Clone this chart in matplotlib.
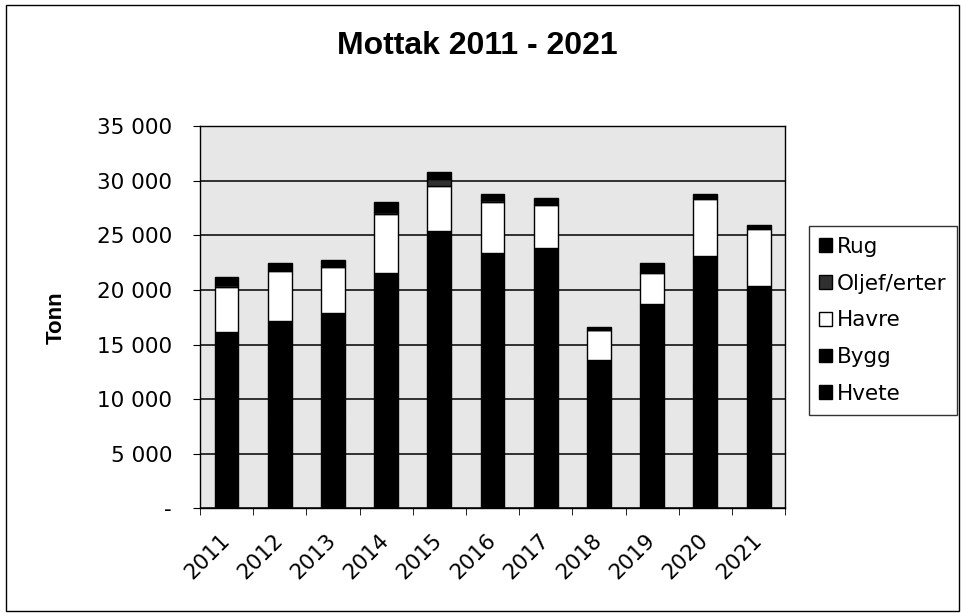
import matplotlib
matplotlib.use('Agg')
from matplotlib import pyplot as plt
from matplotlib.patches import Rectangle
from matplotlib.ticker import FuncFormatter

plt.rcParams['font.family'] = ['DejaVu Sans']

years = ['2011', '2012', '2013', '2014', '2015', '2016',
         '2017', '2018', '2019', '2020', '2021']
hvete = [7200, 8100, 8400, 10300, 12600, 11200, 11500, 6100, 8700, 11000, 9600]
bygg = [8930, 9070, 9450, 11220, 12840, 12160, 12320, 7460, 10000, 12140, 10780]
havre = [4130, 4590, 4220, 5420, 4130, 4740, 3980, 2750, 2880, 5210, 5210]
oljef = [150, 100, 100, 200, 600, 100, 100, 50, 100, 80, 70]
rug = [770, 580, 580, 960, 600, 580, 570, 260, 760, 350, 300]

series = [('Hvete', hvete, 'black'),
          ('Bygg', bygg, 'black'),
          ('Havre', havre, 'white'),
          ('Oljef/erter', oljef, '#303030'),
          ('Rug', rug, 'black')]

fig = plt.figure(figsize=(9.61, 6.16), dpi=100)
ax = fig.add_axes([0.208, 0.175, 0.609, 0.62])
ax.set_facecolor('#e7e7e7')

x = list(range(len(years)))
bottom = [0] * len(years)
handles = []
for name, vals, col in series:
    b = ax.bar(x, vals, bottom=bottom, width=0.45, color=col,
               edgecolor='black', linewidth=1, label=name, zorder=3)
    handles.append(b)
    bottom = [p + q for p, q in zip(bottom, vals)]

ax.set_ylim(0, 35000)
ax.set_xlim(-0.5, len(years) - 0.5)
ax.set_yticks(range(0, 35001, 5000))
ax.yaxis.set_major_formatter(FuncFormatter(
    lambda v, p: '-' if v == 0 else f'{int(v):,}'.replace(',', ' ')))
ax.grid(axis='y', color='black', linewidth=1.1, zorder=1)
ax.tick_params(axis='y', labelsize=15.5, length=5, direction='out', pad=15)

ax.set_xticks(x)
ax.set_xticklabels(years, rotation=45, ha='right', va='center',
                   rotation_mode='anchor', fontsize=15.5)
ax.set_xticks([i - 0.5 for i in range(len(years) + 1)], minor=True)
ax.tick_params(axis='x', which='major', length=0, pad=21)
ax.tick_params(axis='x', which='minor', length=5, direction='out')

for s in ax.spines.values():
    s.set_linewidth(1)
    s.set_color('black')

ax.set_ylabel('Tonn', fontsize=16, fontweight='bold', labelpad=22,
              family='Liberation Sans')
fig.text(0.497, 0.926, 'Mottak 2011 - 2021', ha='center', va='center',
         fontsize=23, fontweight='bold', family='Liberation Sans')

leg = ax.legend(handles[::-1], [s[0] for s in series][::-1],
                loc='center left', bbox_to_anchor=(1.04, 0.492),
                fontsize=15.5, frameon=True, fancybox=False,
                edgecolor='black', handlelength=0.6, handleheight=0.6,
                handletextpad=0.2, labelspacing=0.78, borderpad=0.5,
                borderaxespad=0)
leg.get_frame().set_linewidth(1)

fig.patches.append(Rectangle((0.006, 0.008), 0.992, 0.984, fill=False,
                             edgecolor='black', linewidth=1,
                             transform=fig.transFigure))

fig.savefig('out.png', dpi=100)
